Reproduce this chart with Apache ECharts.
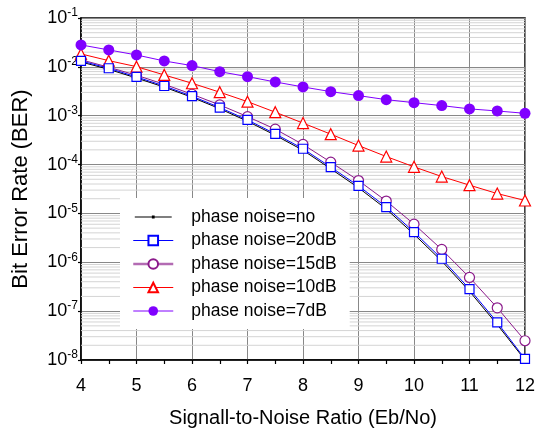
<!DOCTYPE html>
<html>
<head>
<meta charset="utf-8">
<script src="https://cdn.jsdelivr.net/npm/echarts@6/dist/echarts.min.js"></script>
<style>html,body{margin:0;padding:0;background:#fff}#c{width:540px;height:433px}</style>
</head>
<body>
<div id="c"></div>
<script>
var snr = [4, 4.5, 5, 5.5, 6, 6.5, 7, 7.5, 8, 8.5, 9, 9.5, 10, 10.5, 11, 11.5, 12];
var berNo = [1.26e-2, 8.9e-3, 5.9e-3, 3.85e-3, 2.38e-3, 1.39e-3, 7.7e-4, 3.98e-4, 1.96e-4, 8.2e-5, 3.35e-5, 1.23e-5, 3.75e-6, 1.06e-6, 2.55e-7, 5.3e-8, 1.0e-8];
var ber20 = [1.32e-2, 9.36e-3, 6.21e-3, 4.06e-3, 2.51e-3, 1.47e-3, 8.2e-4, 4.25e-4, 2.11e-4, 8.85e-5, 3.66e-5, 1.35e-5, 4.15e-6, 1.18e-6, 2.83e-7, 5.87e-8, 1.05e-8];
var ber15 = [1.40e-2, 9.82e-3, 6.73e-3, 4.40e-3, 2.75e-3, 1.66e-3, 9.59e-4, 5.30e-4, 2.58e-4, 1.12e-4, 4.71e-5, 1.79e-5, 6.04e-6, 1.83e-6, 4.89e-7, 1.17e-7, 2.48e-8];
var ber10 = [1.84e-2, 1.34e-2, 1.01e-2, 6.83e-3, 4.62e-3, 3.03e-3, 1.94e-3, 1.18e-3, 7.06e-4, 4.19e-4, 2.45e-4, 1.46e-4, 8.98e-5, 5.69e-5, 3.79e-5, 2.55e-5, 1.84e-5];
var ber7 = [2.81e-2, 2.22e-2, 1.75e-2, 1.32e-2, 1.06e-2, 7.98e-3, 6.3e-3, 4.91e-3, 3.88e-3, 3.11e-3, 2.58e-3, 2.13e-3, 1.85e-3, 1.61e-3, 1.38e-3, 1.25e-3, 1.12e-3];
var seriesNames = ['phase noise=no', 'phase noise=20dB', 'phase noise=15dB', 'phase noise=10dB', 'phase noise=7dB'];
var xTicks = [4, 5, 6, 7, 8, 9, 10, 11, 12];
var yDecades = [-8, -7, -6, -5, -4, -3, -2, -1];
var minorMantissas = [2, 3, 4, 5, 6, 7, 8, 9];

var FONT = 'Liberation Sans, Arial, sans-serif';
var xMin = xTicks[0], xMax = xTicks[xTicks.length - 1];
var minorGrid = [];
yDecades.slice(0, -1).forEach(function (e) {
  minorMantissas.forEach(function (m) {
    var v = m * Math.pow(10, e);
    minorGrid.push([xMin, v], [xMax, v], ['-', '-']);
  });
});
function pair(arr) { return snr.map(function (x, i) { return [x, arr[i]]; }); }

var chart = echarts.init(document.getElementById('c'), null, { renderer: 'canvas' });
chart.setOption({
  animation: false,
  backgroundColor: '#fff',
  textStyle: { fontFamily: FONT },
  grid: { left: 81, right: 15, top: 18, bottom: 73, show: true, borderColor: '#000', borderWidth: 1.5, backgroundColor: 'transparent' },
  legend: {
    data: [
      { name: seriesNames[0], icon: 'path://M0,0 M40,13 M0,6 L40,6 L40,7 L0,7 Z M18.5,5 L21.5,5 L21.5,8 L18.5,8 Z' },
      seriesNames[1],
      { name: seriesNames[2], lineStyle: { width: 2.5, color: '#b36bb3' } },
      seriesNames[3], seriesNames[4]
    ],
    orient: 'vertical',
    left: 120, top: 198,
    backgroundColor: '#fff',
    padding: [10, 13, 9, 12],
    itemWidth: 40, itemHeight: 12, itemGap: 5.5,
    lineStyle: { width: 1 },
    textStyle: { fontSize: 17.5, lineHeight: 17.5, color: '#000', fontFamily: FONT, padding: [0, 0, 0, 13] },
    selectedMode: false
  },
  xAxis: {
    type: 'value', min: xMin, max: xMax, interval: 1,
    axisLine: { onZero: false, lineStyle: { color: '#000', width: 1.5 } },
    axisTick: { inside: false, length: 4, lineStyle: { color: '#000', width: 1.2 } },
    minorTick: { show: true, splitNumber: 2, length: 4, lineStyle: { color: '#000', width: 1.2 } },
    splitLine: { show: true, lineStyle: { color: '#888', width: 1 } },
    axisLabel: { fontSize: 18, color: '#000', margin: 17, fontFamily: FONT,
      formatter: function (v) { return xTicks.indexOf(v) >= 0 ? String(v) : ''; } },
    name: 'Signall-to-Noise Ratio (Eb/No)', nameLocation: 'middle', nameGap: 48,
    nameTextStyle: { fontSize: 20, color: '#000', fontFamily: FONT }
  },
  yAxis: {
    type: 'log', logBase: 10, min: 1e-8, max: 1e-1,
    axisLine: { show: true, lineStyle: { color: '#000', width: 1.5 } },
    axisTick: { inside: false, length: 3, lineStyle: { color: '#000', width: 1.2 } },
    splitLine: { show: true, lineStyle: { color: '#888', width: 1 } },
    axisLabel: {
      margin: 3, color: '#000', fontFamily: FONT,
      formatter: function (v) {
        var e = Math.round(Math.log10(v));
        return '{b|10}{s|' + e + '}';
      },
      rich: {
        b: { fontSize: 18, color: '#000', fontFamily: FONT, lineHeight: 22, verticalAlign: 'middle' },
        s: { fontSize: 12, color: '#000', fontFamily: FONT, lineHeight: 12, verticalAlign: 'top' }
      }
    },
    name: 'Bit Error Rate (BER)', nameLocation: 'middle', nameGap: 49, nameRotate: 90,
    nameTextStyle: { fontSize: 22, color: '#000', fontFamily: FONT }
  },
  series: [
    { type: 'line', data: minorGrid, silent: true, z: 1, symbol: 'none', connectNulls: false,
      lineStyle: { color: '#d4d4d4', width: 1 }, emphasis: { disabled: true } },
    { name: seriesNames[0], type: 'line', data: pair(berNo), symbol: 'circle', symbolSize: 3,
      itemStyle: { color: '#000' }, lineStyle: { color: '#000', width: 1 }, z: 3 },
    { name: seriesNames[1], type: 'line', data: pair(ber20), symbol: 'rect', symbolSize: 9,
      itemStyle: { color: '#fff', borderColor: '#0000ff', borderWidth: 1.2 }, lineStyle: { color: '#0000ff', width: 1 }, z: 4 },
    { name: seriesNames[2], type: 'line', data: pair(ber15), symbol: 'circle', symbolSize: 10,
      itemStyle: { color: '#fff', borderColor: '#8b1a8b', borderWidth: 1.2 }, lineStyle: { color: '#8b1a8b', width: 1 }, z: 3 },
    { name: seriesNames[3], type: 'line', data: pair(ber10), symbol: 'triangle', symbolSize: 11,
      itemStyle: { color: '#fff', borderColor: '#ff0000', borderWidth: 1.2 }, lineStyle: { color: '#ff0000', width: 1 }, z: 3 },
    { name: seriesNames[4], type: 'line', data: pair(ber7), symbol: 'circle', symbolSize: 11,
      itemStyle: { color: '#8000ff' }, lineStyle: { color: '#8000ff', width: 1 }, z: 3 }
  ]
});
</script>
</body>
</html>
